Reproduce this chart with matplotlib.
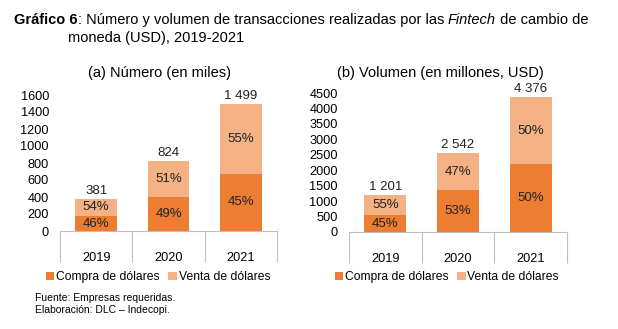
import numpy as np
import matplotlib
matplotlib.use("Agg")
import matplotlib.pyplot as plt

plt.rcParams['font.family'] = ['Liberation Sans', 'DejaVu Sans']

years = ["2019", "2020", "2021"]
num_total = [381, 824, 1499]
num_compra_pct = [46, 49, 45]
vol_total = [1201, 2542, 4376]
vol_compra_pct = [45, 53, 50]

c_compra = "#ED7D31"
c_venta = "#F4B183"
W, H = 618, 329

fig = plt.figure(figsize=(W / 100, H / 100), dpi=100)


def fmt(v):
    return f"{v:,}".replace(",", " ")


def panel(rect, totals, pcts, ymax, step, title, title_x, legend_x):
    ax = fig.add_axes(rect)
    x = np.arange(len(years))
    tot = np.array(totals, dtype=float)
    pc = np.array(pcts, dtype=float)
    compra = tot * pc / 100
    venta = tot - compra
    b1 = ax.bar(x, compra, width=0.58, color=c_compra, label="Compra de dólares")
    b2 = ax.bar(x, venta, width=0.58, bottom=compra, color=c_venta, label="Venta de dólares")
    for i in range(len(x)):
        ax.text(x[i], compra[i] / 2, f"{pcts[i]:.0f}%", ha="center", va="center", fontsize=9.5, color="#222222")
        ax.text(x[i], compra[i] + venta[i] / 2, f"{100 - pcts[i]:.0f}%", ha="center", va="center", fontsize=9.5, color="#222222")
        ax.text(x[i], tot[i] + ymax * 0.015, fmt(totals[i]), ha="center", va="bottom", fontsize=9.5, color="#222222")
    ax.set_xlim(-0.5, len(x) - 0.5)
    ax.set_ylim(0, ymax)
    ax.set_yticks(np.arange(0, ymax + 1, step))
    ax.set_xticks(x)
    ax.set_xticklabels(years)
    ax.set_xticks(np.arange(-0.5, len(x), 1), minor=True)
    ax.tick_params(axis="x", which="major", length=0, pad=15, labelsize=9.2)
    ax.tick_params(axis="x", which="minor", length=22, width=0.8, color="#BFBFBF")
    ax.tick_params(axis="y", length=0, pad=8, labelsize=9.2)
    for s in ["top", "right", "left"]:
        ax.spines[s].set_visible(False)
    ax.spines["bottom"].set_color("#BFBFBF")
    ax.spines["bottom"].set_linewidth(0.8)
    fig.text(title_x / W, 1 - 73 / H, title, ha="center", va="center", fontsize=10.5)
    fig.legend(handles=[b1, b2], loc="center", bbox_to_anchor=(legend_x / W, 1 - 277 / H),
               ncol=2, frameon=False, fontsize=8.7, handlelength=0.7, handleheight=0.7,
               handletextpad=0.15, columnspacing=0.7, borderpad=0)
    return ax


panel([60 / W, 1 - 231 / H, 217 / W, 136 / H], num_total, num_compra_pct, 1600, 200,
      "(a) Número (en miles)", 159, 158)
panel([349 / W, 1 - 232 / H, 218 / W, 139 / H], vol_total, vol_compra_pct, 4500, 500,
      "(b) Volumen (en millones, USD)", 440, 447)

# title with mixed styles
renderer = fig.canvas.get_renderer()
parts = [("Gráfico 6", "bold", "normal"),
         (": Número y volumen de transacciones realizadas por las ", "normal", "normal"),
         ("Fintech", "normal", "italic"),
         (" de cambio de", "normal", "normal")]
xpos = 14 / W
for txt, wt, st in parts:
    t = fig.text(xpos, 1 - 20 / H, txt, fontsize=10.5, fontweight=wt, fontstyle=st,
                 ha="left", va="center")
    bb = t.get_window_extent(renderer)
    xpos = bb.x1 / W
fig.text(68 / W, 1 - 38 / H, "moneda (USD), 2019-2021", fontsize=10.5, ha="left", va="center")

fig.text(35 / W, 1 - 298 / H, "Fuente: Empresas requeridas.", fontsize=7.5, ha="left", va="center")
fig.text(35 / W, 1 - 310 / H, "Elaboración: DLC – Indecopi.", fontsize=7.5, ha="left", va="center")

fig.savefig("out.png", dpi=100)
